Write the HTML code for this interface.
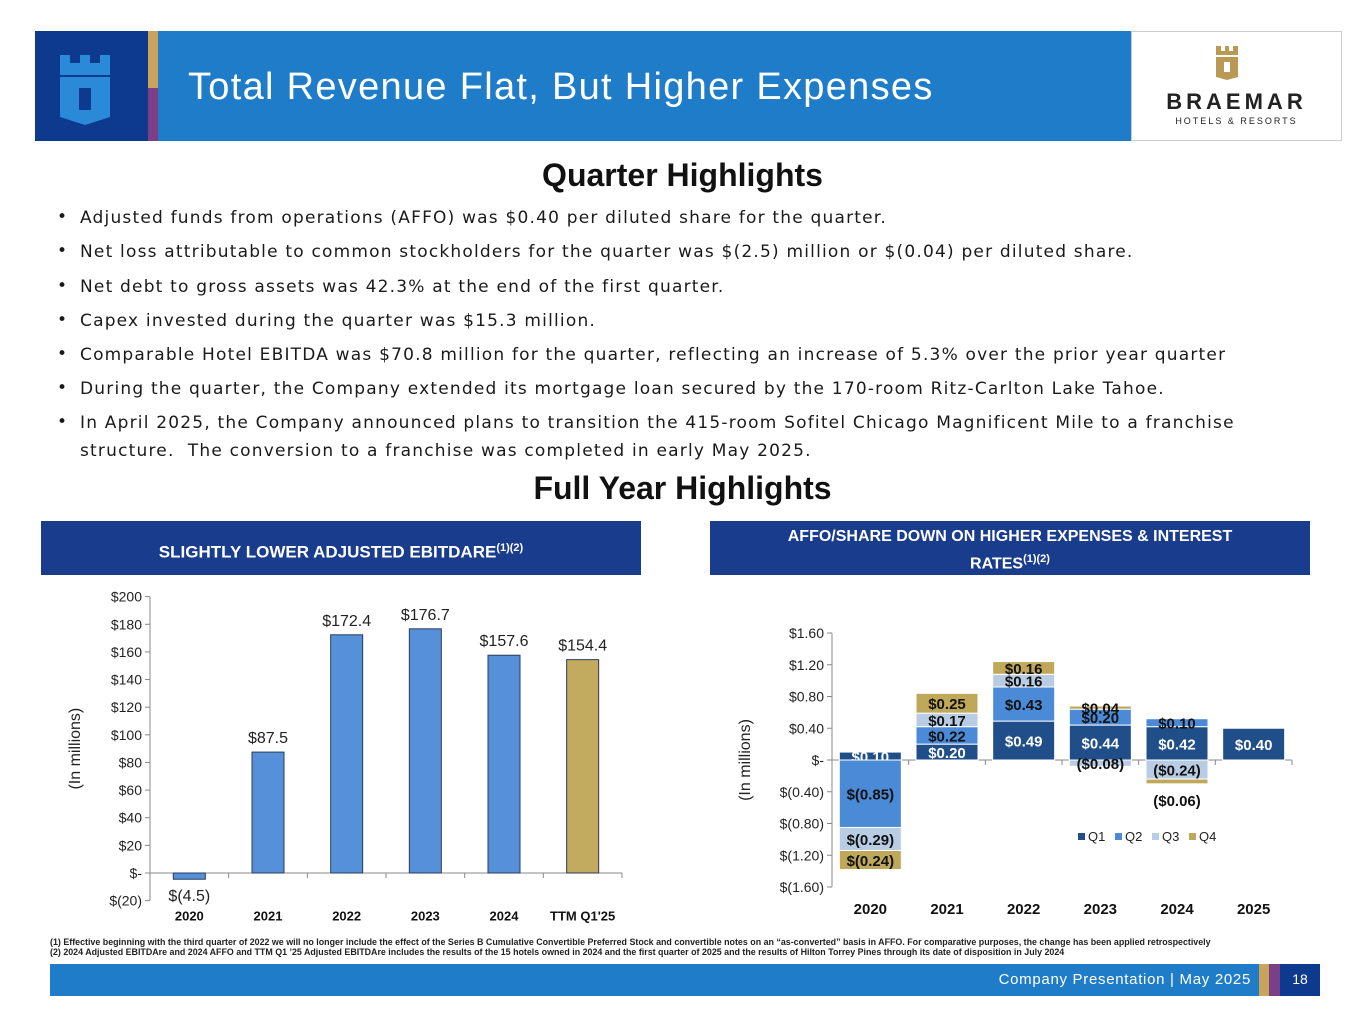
<!DOCTYPE html>
<html><head><meta charset="utf-8"><style>
body{margin:0;width:1365px;height:1030px;background:#fff;font-family:"Liberation Sans",sans-serif;position:relative;overflow:hidden}
.a{position:absolute}
.b{position:absolute;left:57px;font-size:17px;color:#1a1a1a;font-family:"DejaVu Sans",sans-serif}
.b span{position:absolute;left:23px;white-space:nowrap;letter-spacing:1.2px;line-height:28px;top:-3px}
</style></head><body>
<div class="a" style="left:35px;top:31px;width:113px;height:110px;background:#0d3a8f"></div>
<svg class="a" style="left:55px;top:55px" width="70" height="70" viewBox="0 0 70 70"><path d="M5 0h10v8h10v-8h10v8h10v-8h10v20h-50z M5 22h50v40l-25 8-25-8z" fill="#2a8ad8"/><rect x="24" y="33" width="12" height="22" fill="#0d3a8f"/></svg>
<div class="a" style="left:148px;top:31px;width:10px;height:57px;background:#c9a35a"></div>
<div class="a" style="left:148px;top:88px;width:10px;height:53px;background:#7a3f86"></div>
<div class="a" style="left:158px;top:31px;width:973px;height:110px;background:#1f7cc9"></div>
<div class="a" style="left:188px;top:66px;font-size:38px;letter-spacing:1.3px;color:#fff;white-space:nowrap">Total Revenue Flat, But Higher Expenses</div>
<div class="a" style="left:1131px;top:31px;width:211px;height:110px;background:#fff;border:1px solid #ccc;box-sizing:border-box"></div>
<svg class="a" style="left:1214px;top:46px" width="26" height="34" viewBox="0 0 26 34"><path d="M2 0h5v5h4v-5h4v5h4v-5h5v9h-22z M2 11h22v20l-11 3-11-3z" fill="#b99a55"/><rect x="10" y="16" width="6" height="10" fill="#fff"/></svg>
<div class="a" style="left:1131px;width:211px;top:89px;text-align:center;font-size:22px;font-weight:bold;letter-spacing:4px;color:#222">BRAEMAR</div>
<div class="a" style="left:1131px;width:211px;top:116px;text-align:center;font-size:9px;letter-spacing:2px;color:#222">HOTELS &amp; RESORTS</div>

<div class="a" style="left:0;width:1365px;top:157px;text-align:center;font-size:32px;font-weight:bold;color:#111">Quarter Highlights</div>
<div class="b" style="top:207px">•<span>Adjusted funds from operations (AFFO) was $0.40 per diluted share for the quarter.</span></div>
<div class="b" style="top:241px">•<span>Net loss attributable to common stockholders for the quarter was $(2.5) million or $(0.04) per diluted share.</span></div>
<div class="b" style="top:276px">•<span>Net debt to gross assets was 42.3% at the end of the first quarter.</span></div>
<div class="b" style="top:310px">•<span>Capex invested during the quarter was $15.3 million.</span></div>
<div class="b" style="top:344px">•<span>Comparable Hotel EBITDA was $70.8 million for the quarter, reflecting an increase of 5.3% over the prior year quarter</span></div>
<div class="b" style="top:378px">•<span>During the quarter, the Company extended its mortgage loan secured by the 170-room Ritz-Carlton Lake Tahoe.</span></div>
<div class="b" style="top:412px">•<span>In April 2025, the Company announced plans to transition the 415-room Sofitel Chicago Magnificent Mile to a franchise<br>structure.&nbsp; The conversion to a franchise was completed in early May 2025.</span></div>
<div class="a" style="left:0;width:1365px;top:470px;text-align:center;font-size:32px;font-weight:bold;color:#111">Full Year Highlights</div>

<div class="a" style="left:41px;top:521px;width:600px;height:54px;background:#1a3c8c;color:#fff;font-weight:bold;font-size:17px;text-align:center;line-height:54px">SLIGHTLY LOWER ADJUSTED EBITDARE<sup style="font-size:11px">(1)(2)</sup></div>
<div class="a" style="left:710px;top:521px;width:600px;height:54px;background:#1a3c8c;color:#fff;font-weight:bold;font-size:16px;text-align:center;line-height:22px;padding-top:5px;box-sizing:border-box">AFFO/SHARE DOWN ON HIGHER EXPENSES &amp; INTEREST<br>RATES<sup style="font-size:11px">(1)(2)</sup></div>

<svg class="a" id="c1" style="left:0;top:580px" width="660" height="350"></svg>
<svg class="a" id="c2" style="left:700px;top:610px" width="620" height="320"></svg>

<div class="a" style="left:50px;top:937px;font-size:8.9px;font-weight:bold;color:#222;line-height:10px;white-space:nowrap">(1) Effective beginning with the third quarter of 2022 we will no longer include the effect of the Series B Cumulative Convertible Preferred Stock and convertible notes on an “as-converted” basis in AFFO. For comparative purposes, the change has been applied retrospectively<br>(2) 2024 Adjusted EBITDAre and 2024 AFFO and TTM Q1 ’25 Adjusted EBITDAre includes the results of the 15 hotels owned in 2024 and the first quarter of 2025 and the results of Hilton Torrey Pines through its date of disposition in July 2024</div>
<div class="a" style="left:50px;top:964px;width:1209px;height:32px;background:#1f7cc9"></div>
<div class="a" style="left:950px;width:301px;top:971px;text-align:right;font-size:15px;letter-spacing:0.7px;color:#fff">Company Presentation | May 2025</div>
<div class="a" style="left:1259px;top:964px;width:10px;height:32px;background:#c9a35a"></div>
<div class="a" style="left:1269px;top:964px;width:11px;height:32px;background:#7a3f86"></div>
<div class="a" style="left:1280px;top:964px;width:40px;height:32px;background:#0d3a8f;color:#fff;font-size:14px;text-align:center;line-height:30px">18</div>

<script>
const ebCats=["2020","2021","2022","2023","2024","TTM Q1'25"];
const ebVals=[-4.5,87.5,172.4,176.7,157.6,154.4];
const ebLabels=["$(4.5)","$87.5","$172.4","$176.7","$157.6","$154.4"];
const ebTicks=[-20,0,20,40,60,80,100,120,140,160,180,200];
const affoYears=["2020","2021","2022","2023","2024","2025"];
const affoQ1=[0.10,0.20,0.49,0.44,0.42,0.40];
const affoQ2=[-0.85,0.22,0.43,0.20,0.10,null];
const affoQ3=[-0.29,0.17,0.16,-0.08,-0.24,null];
const affoQ4=[-0.24,0.25,0.16,0.04,-0.06,null];
const affoTicks=[-1.6,-1.2,-0.8,-0.4,0,0.4,0.8,1.2,1.6];
const NS="http://www.w3.org/2000/svg";
function mk(p,t,a,txt){const e=document.createElementNS(NS,t);for(const k in a)e.setAttribute(k,a[k]);if(txt!=null)e.textContent=txt;p.appendChild(e);return e;}
// chart 1
(function(){
const s=document.getElementById('c1');
const y=v=>293-(v)*(304/220), x0=150,x1=622,bw=(x1-x0)/ebCats.length;
const x=i=>x0+bw*(i+0.5);
mk(s,'line',{x1:x0,y1:y(200),x2:x0,y2:y(-20),stroke:'#888'});
ebTicks.forEach(t=>{mk(s,'line',{x1:x0-5,y1:y(t),x2:x0,y2:y(t),stroke:'#888'});
const l=mk(s,'text',{x:x0-8,y:y(t)+5,'text-anchor':'end','font-size':14,fill:'#222'},t===0?'$-':t<0?'$('+(-t)+')':'$'+t);

});
mk(s,'line',{x1:x0,y1:y(0),x2:x1,y2:y(0),stroke:'#888'});
ebCats.forEach((c,i)=>{mk(s,'line',{x1:x0+bw*(i+1),y1:y(0),x2:x0+bw*(i+1),y2:y(0)+5,stroke:'#888'});
const v=ebVals[i],top=y(Math.max(v,0)),h=Math.abs(y(v)-y(0));
const r=mk(s,'rect',{x:x(i)-16,y:top,width:32,height:h,fill:i===5?'#c2ab5e':'#5590d9',stroke:'#2a3a5a','stroke-width':1});


mk(s,'text',{x:x(i),y:v<0?y(v)+22:y(v)-9,'text-anchor':'middle','font-size':16,fill:'#222'},ebLabels[i]);
const cl=mk(s,'text',{x:x(i),y:y(-20)+20,'text-anchor':'middle','font-size':13,'font-weight':'bold',fill:'#111'},c);

});
const yt=mk(s,'text',{transform:`translate(80,${y(90)}) rotate(-90)`,'text-anchor':'middle','font-size':16,fill:'#222'},'(In millions)');


})();
// chart 2
(function(){
const s=document.getElementById('c2');
const y=v=>150-v*(127/1.6), x0=132,x1=592,bw=(x1-x0)/affoYears.length;
const x=i=>x0+bw*(i+0.5);
mk(s,'line',{x1:x0,y1:y(1.6),x2:x0,y2:y(-1.6),stroke:'#888'});
affoTicks.forEach(t=>{mk(s,'line',{x1:x0-5,y1:y(t),x2:x0,y2:y(t),stroke:'#888'});
const lbl=t===0?'$-':t<0?'$('+(-t).toFixed(2)+')':'$'+t.toFixed(2);
const l=mk(s,'text',{x:x0-8,y:y(t)+5,'text-anchor':'end','font-size':14,fill:'#222'},lbl);

});
mk(s,'line',{x1:x0,y1:y(0),x2:x1,y2:y(0),stroke:'#888'});
const cols=['#1f4e89','#4a8ad6','#b8cce4','#c0a85a'],series=[affoQ1,affoQ2,affoQ3,affoQ4];
affoYears.forEach((yr,i)=>{mk(s,'line',{x1:x0+bw*(i+1),y1:y(0),x2:x0+bw*(i+1),y2:y(0)+5,stroke:'#888'});
let pos=0,neg=0;
series.forEach((ser,q)=>{const v=ser[i];if(v==null)return;let a,b;
if(v>=0){a=pos;b=pos+v;pos=b;}else{a=neg;b=neg+v;neg=b;}
const top=y(Math.max(a,b)),h=Math.abs(y(a)-y(b));
const r=mk(s,'rect',{x:x(i)-31,y:top,width:62,height:h,fill:cols[q],stroke:'#fff','stroke-width':1});


const txt=v<0?(i>=3?'($'+(-v).toFixed(2)+')':'$('+(-v).toFixed(2)+')'):'$'+v.toFixed(2);
let ly=top+h/2+6; if(i===4&&q===3) ly=top+h+22;
mk(s,'text',{x:x(i),y:ly,'text-anchor':'middle','font-size':15,'font-weight':'bold',fill:q===0?'#fff':'#111'},txt);});
const cl=mk(s,'text',{x:x(i),y:y(-1.6)+27,'text-anchor':'middle','font-size':15,'font-weight':'bold',fill:'#111'},yr);

});
['Q1','Q2','Q3','Q4'].forEach((q,k)=>{const lx=378+k*37;
const g=mk(s,'rect',{x:lx,y:223,width:7,height:7,fill:cols[k]});


mk(s,'text',{x:lx+10,y:231,'font-size':13,fill:'#222'},q);});
const yt=mk(s,'text',{transform:`translate(50,${y(0)}) rotate(-90)`,'text-anchor':'middle','font-size':16,fill:'#222'},'(In millions)');


})();
</script>
</body></html>
